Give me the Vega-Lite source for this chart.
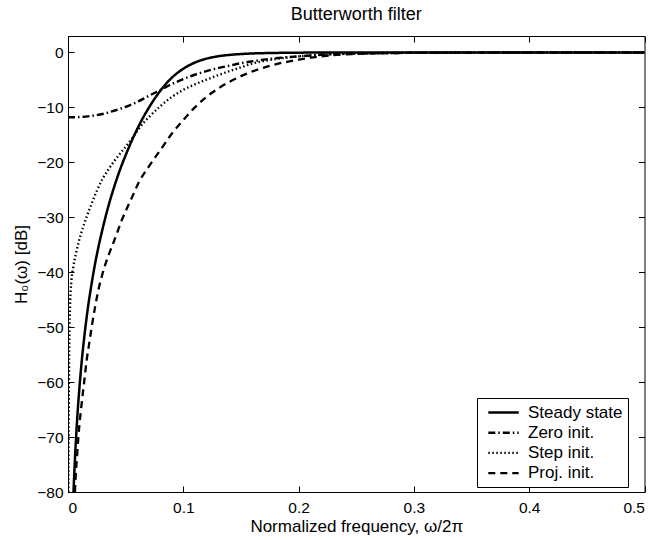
{
  "$schema": "https://vega.github.io/schema/vega-lite/v6.json",
  "autosize": {"type": "none"},
  "padding": {"left": 68, "top": 36, "right": 15.5, "bottom": 48},
  "width": 576.5,
  "height": 456,
  "background": "white",
  "title": {"text": "Butterworth filter", "fontSize": 18, "font": "Liberation Sans", "fontWeight": "normal", "color": "black", "anchor": "middle", "offset": 12},
  "config": {
    "view": {"stroke": null},
    "axis": {"domainColor": "black", "domainWidth": 1, "tickColor": "black", "tickSize": -6, "labelColor": "black", "labelFont": "Liberation Sans", "labelFontSize": 15.5, "titleFont": "Liberation Sans", "titleFontSize": 17, "titleFontWeight": "normal", "titleColor": "black", "grid": false},
    "axisLeft": {"labelPadding": 11, "titlePadding": 6},
    "axisBottom": {"labelPadding": 14, "titlePadding": 3},
    "legend": {"orient": "none", "legendX": 409, "legendY": 362, "strokeColor": "black", "fillColor": "white", "padding": 5, "symbolType": "M-1.9,0H1.9", "symbolSize": 256, "symbolOffset": 12, "labelOffset": 15, "labelFontSize": 17, "labelFont": "Liberation Sans", "labelColor": "black", "rowPadding": 2.2, "symbolStrokeColor": "black", "cornerRadius": 0, "labelExpr": "datum.label + '\u00a0\u00a0\u00a0\u00a0\u00a0\u00a0'"}
  },
  "data": {"values": [
    {"s": "Steady state", "f": 0.0045, "db": -81.6}, {"s": "Steady state", "f": 0.005, "db": -78.8}, {"s": "Steady state", "f": 0.006, "db": -74.1}, {"s": "Steady state", "f": 0.007, "db": -70.1}, {"s": "Steady state", "f": 0.008, "db": -66.6}, {"s": "Steady state", "f": 0.009, "db": -63.5}, {"s": "Steady state", "f": 0.01, "db": -60.8}, {"s": "Steady state", "f": 0.012, "db": -56.0}, {"s": "Steady state", "f": 0.014, "db": -52.0}, {"s": "Steady state", "f": 0.016, "db": -48.5}, {"s": "Steady state", "f": 0.018, "db": -45.4}, {"s": "Steady state", "f": 0.02, "db": -42.7}, {"s": "Steady state", "f": 0.023, "db": -39.0}, {"s": "Steady state", "f": 0.026, "db": -35.8}, {"s": "Steady state", "f": 0.03, "db": -32.1}, {"s": "Steady state", "f": 0.035, "db": -28.0}, {"s": "Steady state", "f": 0.04, "db": -24.5}, {"s": "Steady state", "f": 0.045, "db": -21.4}, {"s": "Steady state", "f": 0.05, "db": -18.7}, {"s": "Steady state", "f": 0.055, "db": -16.2}, {"s": "Steady state", "f": 0.06, "db": -13.95}, {"s": "Steady state", "f": 0.065, "db": -11.9}, {"s": "Steady state", "f": 0.07, "db": -10.1}, {"s": "Steady state", "f": 0.075, "db": -8.45}, {"s": "Steady state", "f": 0.08, "db": -7.0}, {"s": "Steady state", "f": 0.085, "db": -5.7}, {"s": "Steady state", "f": 0.09, "db": -4.6}, {"s": "Steady state", "f": 0.095, "db": -3.7}, {"s": "Steady state", "f": 0.1, "db": -2.96}, {"s": "Steady state", "f": 0.11, "db": -1.84}, {"s": "Steady state", "f": 0.12, "db": -1.13}, {"s": "Steady state", "f": 0.13, "db": -0.7}, {"s": "Steady state", "f": 0.14, "db": -0.44}, {"s": "Steady state", "f": 0.15, "db": -0.28}, {"s": "Steady state", "f": 0.16, "db": -0.18}, {"s": "Steady state", "f": 0.18, "db": -0.08}, {"s": "Steady state", "f": 0.2, "db": -0.03}, {"s": "Steady state", "f": 0.25, "db": -0.005}, {"s": "Steady state", "f": 0.3, "db": 0}, {"s": "Steady state", "f": 0.4, "db": 0}, {"s": "Steady state", "f": 0.5, "db": 0},
    {"s": "Zero init.", "f": 0, "db": -11.8}, {"s": "Zero init.", "f": 0.01, "db": -11.75}, {"s": "Zero init.", "f": 0.02, "db": -11.55}, {"s": "Zero init.", "f": 0.03, "db": -11.2}, {"s": "Zero init.", "f": 0.04, "db": -10.6}, {"s": "Zero init.", "f": 0.05, "db": -9.9}, {"s": "Zero init.", "f": 0.06, "db": -9.0}, {"s": "Zero init.", "f": 0.07, "db": -7.9}, {"s": "Zero init.", "f": 0.08, "db": -6.85}, {"s": "Zero init.", "f": 0.09, "db": -5.75}, {"s": "Zero init.", "f": 0.1, "db": -4.85}, {"s": "Zero init.", "f": 0.11, "db": -4.05}, {"s": "Zero init.", "f": 0.12, "db": -3.4}, {"s": "Zero init.", "f": 0.13, "db": -2.85}, {"s": "Zero init.", "f": 0.14, "db": -2.4}, {"s": "Zero init.", "f": 0.15, "db": -1.95}, {"s": "Zero init.", "f": 0.16, "db": -1.6}, {"s": "Zero init.", "f": 0.17, "db": -1.3}, {"s": "Zero init.", "f": 0.18, "db": -1.05}, {"s": "Zero init.", "f": 0.2, "db": -0.7}, {"s": "Zero init.", "f": 0.22, "db": -0.42}, {"s": "Zero init.", "f": 0.25, "db": -0.2}, {"s": "Zero init.", "f": 0.3, "db": -0.06}, {"s": "Zero init.", "f": 0.35, "db": -0.02}, {"s": "Zero init.", "f": 0.4, "db": 0}, {"s": "Zero init.", "f": 0.5, "db": 0},
    {"s": "Step init.", "f": 0.0003, "db": -80}, {"s": "Step init.", "f": 0.0005, "db": -70}, {"s": "Step init.", "f": 0.0008, "db": -60}, {"s": "Step init.", "f": 0.0012, "db": -52}, {"s": "Step init.", "f": 0.0018, "db": -46}, {"s": "Step init.", "f": 0.003, "db": -41.5}, {"s": "Step init.", "f": 0.0046, "db": -39}, {"s": "Step init.", "f": 0.007, "db": -36.5}, {"s": "Step init.", "f": 0.009, "db": -34.7}, {"s": "Step init.", "f": 0.012, "db": -32.5}, {"s": "Step init.", "f": 0.0162, "db": -29.9}, {"s": "Step init.", "f": 0.02, "db": -27.8}, {"s": "Step init.", "f": 0.025, "db": -25.2}, {"s": "Step init.", "f": 0.03, "db": -23.0}, {"s": "Step init.", "f": 0.035, "db": -21.3}, {"s": "Step init.", "f": 0.04, "db": -19.8}, {"s": "Step init.", "f": 0.0467, "db": -18.0}, {"s": "Step init.", "f": 0.051, "db": -16.9}, {"s": "Step init.", "f": 0.055, "db": -15.8}, {"s": "Step init.", "f": 0.06, "db": -14.3}, {"s": "Step init.", "f": 0.0655, "db": -12.8}, {"s": "Step init.", "f": 0.07, "db": -11.8}, {"s": "Step init.", "f": 0.08, "db": -9.8}, {"s": "Step init.", "f": 0.09, "db": -8.1}, {"s": "Step init.", "f": 0.1, "db": -6.8}, {"s": "Step init.", "f": 0.11, "db": -5.8}, {"s": "Step init.", "f": 0.12, "db": -4.95}, {"s": "Step init.", "f": 0.13, "db": -4.15}, {"s": "Step init.", "f": 0.14, "db": -3.4}, {"s": "Step init.", "f": 0.15, "db": -2.7}, {"s": "Step init.", "f": 0.16, "db": -2.0}, {"s": "Step init.", "f": 0.17, "db": -1.55}, {"s": "Step init.", "f": 0.18, "db": -1.2}, {"s": "Step init.", "f": 0.2, "db": -0.7}, {"s": "Step init.", "f": 0.22, "db": -0.4}, {"s": "Step init.", "f": 0.25, "db": -0.18}, {"s": "Step init.", "f": 0.3, "db": -0.05}, {"s": "Step init.", "f": 0.35, "db": 0}, {"s": "Step init.", "f": 0.5, "db": 0},
    {"s": "Proj. init.", "f": 0.006, "db": -80}, {"s": "Proj. init.", "f": 0.0067, "db": -77}, {"s": "Proj. init.", "f": 0.008, "db": -73}, {"s": "Proj. init.", "f": 0.009, "db": -70}, {"s": "Proj. init.", "f": 0.0105, "db": -66.5}, {"s": "Proj. init.", "f": 0.0119, "db": -63.8}, {"s": "Proj. init.", "f": 0.014, "db": -60}, {"s": "Proj. init.", "f": 0.0162, "db": -56}, {"s": "Proj. init.", "f": 0.0185, "db": -52.8}, {"s": "Proj. init.", "f": 0.0206, "db": -49.9}, {"s": "Proj. init.", "f": 0.0235, "db": -46.3}, {"s": "Proj. init.", "f": 0.0264, "db": -43.2}, {"s": "Proj. init.", "f": 0.03, "db": -40.2}, {"s": "Proj. init.", "f": 0.035, "db": -37.0}, {"s": "Proj. init.", "f": 0.04, "db": -34.3}, {"s": "Proj. init.", "f": 0.0467, "db": -30.5}, {"s": "Proj. init.", "f": 0.055, "db": -26.6}, {"s": "Proj. init.", "f": 0.062, "db": -23.4}, {"s": "Proj. init.", "f": 0.07, "db": -20.8}, {"s": "Proj. init.", "f": 0.08, "db": -17.8}, {"s": "Proj. init.", "f": 0.09, "db": -14.8}, {"s": "Proj. init.", "f": 0.1, "db": -12.3}, {"s": "Proj. init.", "f": 0.11, "db": -10.0}, {"s": "Proj. init.", "f": 0.12, "db": -8.1}, {"s": "Proj. init.", "f": 0.13, "db": -6.6}, {"s": "Proj. init.", "f": 0.14, "db": -5.35}, {"s": "Proj. init.", "f": 0.15, "db": -4.3}, {"s": "Proj. init.", "f": 0.16, "db": -3.45}, {"s": "Proj. init.", "f": 0.17, "db": -2.75}, {"s": "Proj. init.", "f": 0.18, "db": -2.15}, {"s": "Proj. init.", "f": 0.19, "db": -1.7}, {"s": "Proj. init.", "f": 0.2, "db": -1.3}, {"s": "Proj. init.", "f": 0.21, "db": -0.95}, {"s": "Proj. init.", "f": 0.22, "db": -0.7}, {"s": "Proj. init.", "f": 0.23, "db": -0.5}, {"s": "Proj. init.", "f": 0.25, "db": -0.27}, {"s": "Proj. init.", "f": 0.28, "db": -0.12}, {"s": "Proj. init.", "f": 0.3, "db": -0.07}, {"s": "Proj. init.", "f": 0.35, "db": -0.02}, {"s": "Proj. init.", "f": 0.4, "db": 0}, {"s": "Proj. init.", "f": 0.5, "db": 0}
  ]},
  "layer": [
    {
      "mark": {"type": "line", "clip": true, "interpolate": "monotone", "color": "black"},
      "encoding": {
        "x": {"field": "f", "type": "quantitative", "scale": {"domain": [0, 0.5], "nice": false, "zero": false}, "axis": {"orient": "bottom", "values": [0, 0.1, 0.2, 0.3, 0.4, 0.5], "format": "~g", "title": "Normalized frequency, ω/2π"}},
        "y": {"field": "db", "type": "quantitative", "scale": {"domain": [-80, 3], "nice": false, "zero": false}, "axis": {"orient": "left", "values": [-80, -70, -60, -50, -40, -30, -20, -10, 0], "title": "H₀(ω) [dB]"}},
        "strokeDash": {"field": "s", "type": "nominal", "scale": {"domain": ["Steady state", "Zero init.", "Step init.", "Proj. init."], "range": [[1, 0], [7, 3, 1.5, 3], [1.5, 2.5], [7, 5]]}, "legend": {"title": null}},
        "strokeWidth": {"field": "s", "type": "nominal", "scale": {"domain": ["Steady state", "Zero init.", "Step init.", "Proj. init."], "range": [2.5, 2.3, 1.3, 2.5]}, "legend": {"title": null}}
      }
    },
    {
      "mark": {"type": "point", "opacity": 0},
      "encoding": {
        "x": {"field": "f", "type": "quantitative", "scale": {"domain": [0, 0.5], "nice": false, "zero": false}, "axis": {"orient": "top", "values": [0, 0.1, 0.2, 0.3, 0.4, 0.5], "labels": false, "title": null}},
        "y": {"field": "db", "type": "quantitative", "scale": {"domain": [-80, 3], "nice": false, "zero": false}, "axis": {"orient": "right", "values": [-80, -70, -60, -50, -40, -30, -20, -10, 0], "labels": false, "title": null}}
      }
    }
  ],
  "resolve": {"axis": {"x": "independent", "y": "independent"}}
}
